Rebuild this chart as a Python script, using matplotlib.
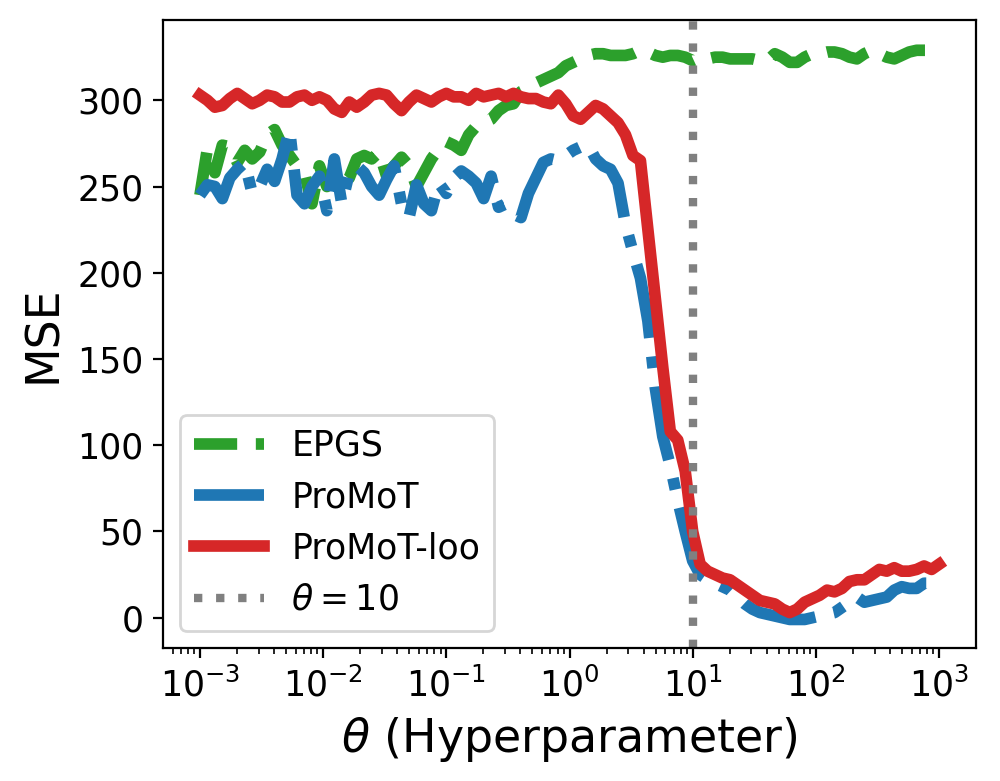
import numpy as np
import matplotlib
matplotlib.use("Agg")
import matplotlib.pyplot as plt

# theta grid: 100 log-spaced values from 1e-3 to 1e3
theta = np.logspace(-3, 3, 100)

epgs = [245, 272, 258, 274, 273, 264, 271, 266, 270, 280,
        283, 274, 268, 262, 258, 240, 262, 250, 256, 250,
        255, 266, 268, 266, 270, 256, 262, 267, 262, 250,
        258, 266, 272, 276, 274, 271, 280, 285, 287, 289,
        294, 297, 298, 305, 307, 310, 312, 314, 316, 320,
        322, 324, 326, 327, 327, 326, 326, 326, 327, 329,
        328, 326, 325, 326, 326, 325, 323, 325, 324, 325,
        325, 324, 324, 324, 324, 323, 323, 327, 325, 322,
        322, 325, 327, 327, 328, 328, 327, 325, 324, 327,
        329, 327, 325, 324, 326, 328, 329, 329, 329, 330]

promot = [245, 251, 250, 243, 255, 260, 264, 246, 250, 260,
          253, 266, 283, 245, 240, 250, 256, 236, 266, 240,
          258, 262, 258, 250, 245, 254, 262, 240, 232, 251,
          240, 236, 252, 246, 255, 259, 256, 252, 243, 256,
          238, 240, 234, 232, 246, 255, 264, 266, 265, 268,
          271, 273, 274, 266, 262, 260, 252, 228, 212, 197,
          172, 133, 105, 88, 68, 50, 33, 25, 22, 20,
          18, 16, 12, 8, 5, 3, 2, 1, 0, -1,
          -1, -1, 0, 1, 2, 3, 6, 9, 12, 9,
          10, 11, 12, 16, 18, 17, 17, 20, 20, 21]

promot_loo = [303, 300, 296, 297, 301, 304, 301, 298, 300, 303,
              302, 299, 299, 302, 303, 300, 302, 300, 295, 293,
              299, 296, 299, 303, 304, 303, 298, 294, 299, 303,
              301, 299, 302, 304, 302, 302, 300, 304, 302, 303,
              304, 302, 304, 302, 301, 301, 299, 298, 303, 298,
              291, 289, 293, 297, 295, 291, 287, 280, 268, 265,
              225, 185, 145, 108, 103, 85, 50, 31, 27, 25,
              23, 22, 19, 16, 13, 10, 9, 8, 5, 3,
              5, 9, 11, 13, 16, 15, 17, 21, 22, 22,
              25, 28, 27, 29, 27, 27, 28, 30, 28, 31]

threshold = 10

fig = plt.figure(figsize=(5.0, 3.905), dpi=200)
ax = fig.add_axes([0.163, 1 - 648 / 781, 0.813, (648 - 20) / 781])

ax.plot(theta, epgs, linestyle='--', color='#2ca02c', linewidth=4.2, label='EPGS')
ax.plot(theta, promot, linestyle='-.', color='#1f77b4', linewidth=4.2, label='ProMoT')
ax.plot(theta, promot_loo, linestyle='-', color='#d62728', linewidth=4.2, label='ProMoT-loo')
ax.axvline(threshold, color='gray', linestyle=':', linewidth=3, label=r'$\theta=10$')

ax.set_xscale('log')
ax.set_yticks([0, 50, 100, 150, 200, 250, 300])
ax.tick_params(labelsize=12.5)
ax.set_xlabel(r'$\theta$ (Hyperparameter)', fontsize=16.5)
ax.set_ylabel('MSE', fontsize=16.5)
ax.legend(loc='lower left', fontsize=12.5)

fig.savefig('out.png', dpi=200)
